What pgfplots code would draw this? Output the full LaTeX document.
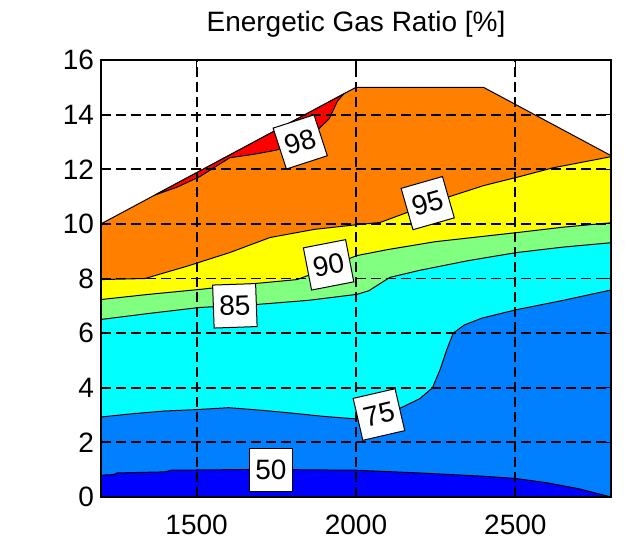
\documentclass[border=0pt]{standalone}
\usepackage{fontspec}
\setmainfont{Liberation Sans}
\usepackage{pgfplots}
\pgfplotsset{compat=1.18}
\definecolor{cDark}{RGB}{0,0,255}
\definecolor{cBlue}{RGB}{0,128,255}
\definecolor{cCyan}{RGB}{0,255,255}
\definecolor{cGreen}{RGB}{128,255,128}
\definecolor{cYellow}{RGB}{255,255,0}
\definecolor{cOrange}{RGB}{255,128,0}
\definecolor{cRed}{RGB}{255,0,0}
\begin{document}
\begin{tikzpicture}
\path[use as bounding box] (-50.5pt,-23pt) rectangle (266.5pt,248.5pt);
\begin{axis}[
  at={(0,0)}, anchor=south west, scale only axis,
  width=255pt, height=218.5pt,
  xmin=1200, xmax=2800, ymin=0, ymax=16,
  xtick={1500,2000,2500}, ytick={0,2,...,16},
  grid=major, grid style={black, dash pattern=on 5pt off 2.5pt, line width=0.9pt},
  axis on top, tick align=inside, major tick length=4pt,
  tick style={black, line width=0.6pt},
  axis line style={black, line width=0.7pt},
  /pgf/number format/assume math mode=true,
  /pgf/number format/1000 sep={},
  ticklabel style={font=\fontsize{14}{16}\selectfont, text=black},
  xticklabel style={anchor=base, yshift=-18.5pt},
  title={Energetic Gas Ratio [\%]},
  title style={font=\fontsize{14}{16}\selectfont, at={(0.5,1)}, anchor=base, yshift=8.5pt},
  every axis plot/.append style={draw=black, line width=0.5pt},
]
% orange: whole domain below the top boundary
\addplot[fill=cOrange] coordinates {(1200,10) (2000,15) (2400,15) (2800,12.5)} \closedcycle;
% red: 98 region
\addplot[fill=cRed] coordinates {(1370,11.06) (1962,14.76) (1942,14.5) (1916,13.85) (1885,13.5) (1820,13.0) (1750,12.7) (1680,12.55) (1604,12.42) (1560,12.1) (1510,11.73) (1440,11.35) (1370,11.06)} -- cycle;
% yellow: below 95
\addplot[fill=cYellow] coordinates {(1200,7.96) (1338,8.0) (1470,8.45) (1604,8.95) (1730,9.5) (1870,9.8) (2003,9.97) (2075,10.05) (2159,10.41) (2294,11.0) (2400,11.4) (2513,11.73) (2617,12.05) (2800,12.46)} \closedcycle;
% green: below 90
\addplot[fill=cGreen] coordinates {(1200,7.23) (1350,7.42) (1510,7.6) (1650,7.78) (1815,7.96) (1870,8.2) (1950,8.6) (2003,8.84) (2100,9.06) (2250,9.35) (2504,9.68) (2650,9.88) (2800,10.04)} \closedcycle;
% cyan: below 85
\addplot[fill=cCyan] coordinates {(1200,6.5) (1350,6.72) (1510,6.94) (1690,7.05) (1850,7.2) (2003,7.42) (2040,7.55) (2106,8.04) (2200,8.3) (2350,8.65) (2504,8.95) (2650,9.15) (2800,9.31)} \closedcycle;
% blue: below 75
\addplot[fill=cBlue] coordinates {(1200,2.93) (1300,3.05) (1400,3.15) (1500,3.2) (1600,3.27) (1700,3.18) (1800,3.07) (1900,2.95) (2000,2.86) (2070,3.0) (2140,3.26) (2200,3.6) (2240,4.0) (2265,4.7) (2285,5.4) (2305,6.0) (2340,6.3) (2395,6.55) (2500,6.85) (2650,7.2) (2800,7.58)} \closedcycle;
% dark blue: below 50
\addplot[fill=cDark] coordinates {(1200,0.8) (1240,0.82) (1250,0.88) (1400,0.92) (1420,0.98) (1600,1.0) (1800,1.0) (2000,0.98) (2200,0.88) (2400,0.76) (2500,0.68) (2600,0.52) (2700,0.3) (2800,0.0)} \closedcycle;
\coordinate (l98) at (axis cs:1825,13.0);
\coordinate (l95) at (axis cs:2225,10.76);
\coordinate (l90) at (axis cs:1914,8.5);
\coordinate (l85) at (axis cs:1620,7.0);
\coordinate (l75) at (axis cs:2072,3.02);
\coordinate (l50) at (axis cs:1733,0.98);
\end{axis}
\tikzset{lab/.style={fill=white, draw=black, line width=0.5pt, minimum width=21.5pt, minimum height=21.5pt, inner sep=0pt, font=\fontsize{14}{16}\selectfont}}
\node[lab, rotate=18] at (l98) {98};
\node[lab, rotate=16] at (l95) {95};
\node[lab, rotate=11] at (l90) {90};
\node[lab, rotate=2] at (l85) {85};
\node[lab, rotate=13] at (l75) {75};
\node[lab] at (l50) {50};
\end{tikzpicture}
\end{document}
